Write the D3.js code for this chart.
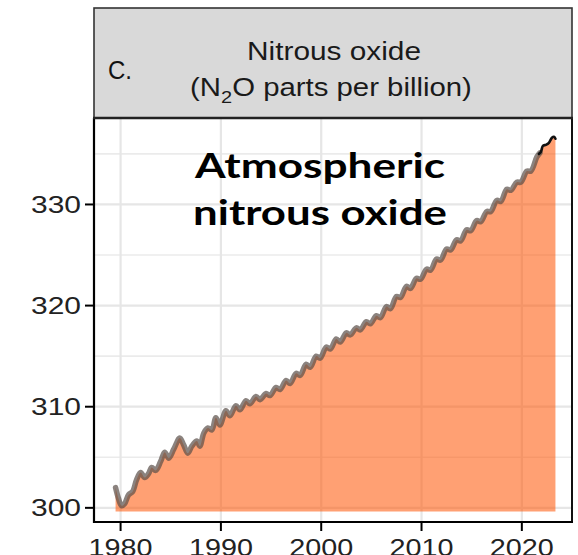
<!DOCTYPE html>
<html>
<head>
<meta charset="utf-8">
<script src="https://cdn.jsdelivr.net/npm/d3@7"></script>
<style>
  html, body { margin: 0; padding: 0; background: #fff; }
  svg { display: block; }
</style>
</head>
<body>
<svg id="chart" width="578" height="555"></svg>
<script>
// ---- data ----
const n2oYears = [1979.5,1979.8,1980.1,1980.4,1980.8,1981.2,1981.6,1982.0,1982.4,1982.8,1983.1,1983.5,1984.0,1984.4,1984.8,1985.3,1985.9,1986.3,1986.7,1987.1,1987.6,1987.9,1988.3,1988.7,1989.1,1989.5,1989.9,1990.5,1990.9,1991.5,1991.9,1992.5,1992.9,1993.5,1993.9,1994.5,1994.9,1995.5,1995.9,1996.5,1996.9,1997.5,1997.9,1998.5,1998.9,1999.5,1999.9,2000.5,2000.9,2001.5,2001.9,2002.5,2002.9,2003.5,2003.9,2004.5,2004.9,2005.5,2005.9,2006.5,2006.9,2007.5,2007.9,2008.5,2008.9,2009.5,2009.9,2010.5,2010.9,2011.5,2011.9,2012.5,2012.9,2013.5,2013.9,2014.5,2014.9,2015.5,2015.9,2016.5,2016.9,2017.5,2017.9,2018.5,2018.9,2019.5,2019.9,2020.5,2020.9,2021.5,2021.8];
const n2oPpb = [302.0,300.9,300.2,300.4,301.3,301.6,302.8,303.5,303.0,303.4,304.0,303.7,304.6,305.5,304.9,305.8,306.9,306.2,305.4,306.1,306.6,306.1,307.4,307.9,307.7,308.9,308.2,309.6,309.1,310.1,309.7,310.6,310.3,311.0,310.7,311.3,311.1,311.9,311.7,312.6,312.3,313.3,313.1,314.2,313.9,315.0,314.8,315.9,315.7,316.7,316.4,317.3,317.1,317.8,317.6,318.4,318.2,319.0,318.8,319.9,319.7,320.9,320.8,321.9,321.7,322.7,322.6,323.6,323.5,324.6,324.5,325.6,325.5,326.5,326.4,327.5,327.4,328.4,328.3,329.3,329.3,330.4,330.3,331.5,331.4,332.2,332.2,333.3,333.3,334.7,335.1];
const recentYears = [2021.7,2021.9,2022.1,2022.4,2022.7,2023.0,2023.2,2023.35];
const recentPpb   = [335.0,335.2,335.8,335.9,336.1,336.6,336.7,336.5];
const areaBase = 299.65;
const yTicks = [300,310,320,330];
const yMinor = [305,315,325,335];
const xTicks = [1980,1990,2000,2010,2020];
const titleLine1 = "Nitrous oxide";
const panelLetter = "C.";
const annotation = ["Atmospheric","nitrous oxide"];

// ---- layout ----
const svg = d3.select("#chart");
const P = {left: 94, right: 572, top: 118, bottom: 522};
const strip = {top: 8, bottom: 118};

const x = d3.scaleLinear().domain([1977.35, 2025.0]).range([P.left, P.right]);
const y = d3.scaleLinear().domain([298.6, 338.55]).range([P.bottom, P.top]);

const main = n2oYears.map((t,i)=>({t, v:n2oPpb[i]}));
const recent = recentYears.map((t,i)=>({t, v:recentPpb[i]}));
const areaData = main.filter(d=>d.t < recentYears[0]).concat(recent);

// panel background
svg.append("rect").attr("x",P.left).attr("y",P.top).attr("width",P.right-P.left).attr("height",P.bottom-P.top).attr("fill","#fff");

// grid
const grid = svg.append("g");
grid.selectAll(".hmin").data(yMinor).join("line")
  .attr("x1",P.left).attr("x2",P.right).attr("y1",d=>y(d)).attr("y2",d=>y(d))
  .attr("stroke","#ebebeb").attr("stroke-width",1.6);
grid.selectAll(".hmaj").data(yTicks).join("line")
  .attr("x1",P.left).attr("x2",P.right).attr("y1",d=>y(d)).attr("y2",d=>y(d))
  .attr("stroke","#e6e6e6").attr("stroke-width",2.2);
grid.selectAll(".vmaj").data(xTicks).join("line")
  .attr("y1",P.top).attr("y2",P.bottom).attr("x1",d=>x(d)).attr("x2",d=>x(d))
  .attr("stroke","#e6e6e6").attr("stroke-width",2.2);

// area
const area = d3.area().x(d=>x(d.t)).y0(y(areaBase)).y1(d=>y(d.v)).curve(d3.curveCatmullRom);
svg.append("path").datum(areaData).attr("d",area)
  .attr("fill","rgb(255,82,0)").attr("fill-opacity",0.55);

// lines
const line = d3.line().x(d=>x(d.t)).y(d=>y(d.v)).curve(d3.curveCatmullRom);
svg.append("path").datum(main).attr("d",line)
  .attr("fill","none").attr("stroke","#5a4e48").attr("stroke-opacity",0.7)
  .attr("stroke-width",5.5).attr("stroke-linejoin","round").attr("stroke-linecap","round");
svg.append("path").datum(recent).attr("d",line)
  .attr("fill","none").attr("stroke","#111").attr("stroke-width",2.6)
  .attr("stroke-linejoin","round").attr("stroke-linecap","round");

// panel border (right) and axes
svg.append("line").attr("x1",P.right).attr("x2",P.right).attr("y1",P.top).attr("y2",P.bottom+1)
  .attr("stroke","#111").attr("stroke-width",2);
svg.append("line").attr("x1",P.left).attr("x2",P.left).attr("y1",P.top).attr("y2",P.bottom+1)
  .attr("stroke","#000").attr("stroke-width",2.2);
svg.append("line").attr("x1",P.left-1).attr("x2",P.right+1).attr("y1",P.bottom).attr("y2",P.bottom)
  .attr("stroke","#000").attr("stroke-width",2.2);

// strip
svg.append("rect").attr("x",P.left).attr("y",strip.top).attr("width",P.right-P.left).attr("height",strip.bottom-strip.top)
  .attr("fill","#d9d9d9").attr("stroke","#333").attr("stroke-width",1.6);
svg.append("line").attr("x1",P.left-1).attr("x2",P.right+1).attr("y1",strip.bottom).attr("y2",strip.bottom)
  .attr("stroke","#222").attr("stroke-width",2.4);

// helper: stretch text horizontally to a target width around its anchor
function fit(textSel, tx, ty, target) {
  const w = textSel.node().getComputedTextLength();
  const s = target / w;
  textSel.attr("transform", `translate(${tx},${ty}) scale(${s},1)`);
}

// y ticks + labels
yTicks.forEach(v=>{
  svg.append("line").attr("x1",P.left-9).attr("x2",P.left).attr("y1",y(v)).attr("y2",y(v))
    .attr("stroke","#000").attr("stroke-width",2);
  const t = svg.append("text").text(v).attr("x",0).attr("y",0)
    .attr("text-anchor","end").attr("dy","0.35em")
    .attr("font-family","Liberation Sans, Arial, sans-serif").attr("font-size",24).attr("fill","#222");
  fit(t, P.left-13, y(v), 50);
});
// x ticks + labels
xTicks.forEach(v=>{
  svg.append("line").attr("y1",P.bottom).attr("y2",P.bottom+9).attr("x1",x(v)).attr("x2",x(v))
    .attr("stroke","#000").attr("stroke-width",2);
  const t = svg.append("text").text(v).attr("x",0).attr("y",0)
    .attr("text-anchor","middle")
    .attr("font-family","Liberation Sans, Arial, sans-serif").attr("font-size",24).attr("fill","#222");
  fit(t, x(v), 556, 64);
});

// strip texts
const c = svg.append("text").text(panelLetter).attr("x",0).attr("y",0)
  .attr("font-family","Liberation Sans, Arial, sans-serif").attr("font-size",25).attr("fill","#111");
fit(c, 108, 79, 24);

const t1 = svg.append("text").text(titleLine1).attr("x",0).attr("y",0).attr("text-anchor","middle")
  .attr("font-family","Liberation Sans, Arial, sans-serif").attr("font-size",25).attr("fill","#1a1a1a");
fit(t1, 334, 60, 174);

const t2 = svg.append("text").attr("x",0).attr("y",0).attr("text-anchor","middle")
  .attr("font-family","Liberation Sans, Arial, sans-serif").attr("font-size",25).attr("fill","#1a1a1a");
t2.append("tspan").text("(N");
t2.append("tspan").text("2").attr("font-size",17).attr("dy",7);
t2.append("tspan").text("O parts per billion)").attr("dy",-7);
fit(t2, 331, 96, 282);

// annotation
annotation.forEach((s,i)=>{
  const a = svg.append("text").text(s).attr("x",0).attr("y",0).attr("text-anchor","middle")
    .attr("font-family","Lato, 'Open Sans', sans-serif").attr("font-weight",700)
    .attr("font-size",35).attr("fill","#000");
  fit(a, 320, i===0 ? 178 : 225, i===0 ? 250 : 254);
});
</script>
</body>
</html>
